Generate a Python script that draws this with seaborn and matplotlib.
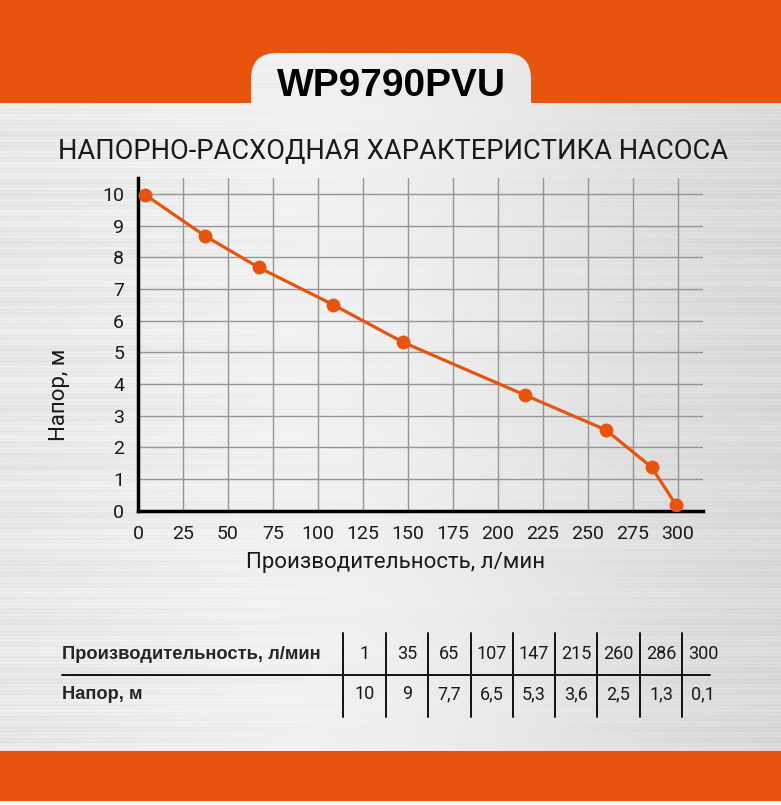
import numpy as np
import matplotlib
matplotlib.use("Agg")
import matplotlib.pyplot as plt
from matplotlib.patches import Rectangle, FancyBboxPatch
import seaborn as sns

sns.set_style("white")
plt.rcParams['font.family'] = ['Roboto', 'DejaVu Sans']

# points as drawn on the curve
flow_pts = [4, 37, 67, 108.5, 147.5, 215, 260, 285.5, 299]
head_pts = [9.97, 8.68, 7.68, 6.5, 5.31, 3.65, 2.55, 1.37, 0.18]

# values printed in the table
table_flow = ["1", "35", "65", "107", "147", "215", "260", "286", "300"]
table_head = ["10", "9", "7,7", "6,5", "5,3", "3,6", "2,5", "1,3", "0,1"]

x_ticks = list(range(0, 301, 25))
y_ticks = list(range(0, 11))

model = "WP9790PVU"
title = "НАПОРНО-РАСХОДНАЯ ХАРАКТЕРИСТИКА НАСОСА"
xlab = "Производительность, л/мин"
ylab = "Напор, м"

orange = "#E8540E"
W, H = 781, 805

fig = plt.figure(figsize=(W / 100, H / 100), dpi=100)

# background: brushed metal look
bg = fig.add_axes([0, 0, 1, 1], zorder=0)
bg.axis("off")
rows = np.arange(H)[:, None]
cols = np.arange(W)[None, :]
base = 0.90 + 0.05 * np.exp(-((cols - 330) / 260.0) ** 2) - 0.05 * (cols / W) ** 2
streak = (0.018 * np.sin(rows * 1.7) + 0.012 * np.sin(rows * 0.53 + 2)
          + 0.01 * np.sin(rows * 0.117 + 1)) * (0.6 + 0.4 * np.cos(cols / 140.0))
metal = np.clip(base + streak, 0, 1)
bg.imshow(metal, cmap="gray", vmin=0, vmax=1, extent=(0, W, H, 0), aspect="auto", zorder=0)

bg.add_patch(Rectangle((0, 0), W, 103, color=orange, lw=0, zorder=1))
bg.add_patch(Rectangle((0, 751), W, 50, color=orange, lw=0, zorder=1))
bg.add_patch(Rectangle((0, 801), W, 4, color="white", lw=0, zorder=1))
tab = FancyBboxPatch((251, 53), 280, 90, boxstyle="round,pad=0,rounding_size=26",
                     facecolor="none", edgecolor="none", zorder=1)
bg.add_patch(tab)
img2 = bg.imshow(metal, cmap="gray", vmin=0, vmax=1, extent=(0, W, H, 0), aspect="auto", zorder=2)
img2.set_clip_path(tab)
bg.set_xlim(0, W)
bg.set_ylim(H, 0)

bg.text(391, 86, model, ha="center", va="center", fontsize=28, fontweight="bold",
        family="Liberation Sans", color="black", zorder=3)
bg.text(393, 152, title, ha="center", va="center", fontsize=19.6, color="#1a1a1a", zorder=3)

# table
col_x = [343, 386, 428, 471, 513, 555, 597, 640, 682]
centers = [(col_x[i] + col_x[i + 1]) / 2 for i in range(len(col_x) - 1)] + [703]
bg.plot([62, 710], [675, 675], color="#111111", lw=1.4, zorder=3)
for cx in col_x:
    bg.plot([cx, cx], [633, 717], color="#111111", lw=1.4, zorder=3)
bg.text(62, 654, xlab, ha="left", va="center", fontsize=13.2, fontweight="bold",
        family="Liberation Sans", zorder=3)
bg.text(62, 694, ylab, ha="left", va="center", fontsize=13.2, fontweight="bold",
        family="Liberation Sans", zorder=3)
for c, f, h in zip(centers, table_flow, table_head):
    bg.text(c, 654, f, ha="center", va="center", fontsize=13, color="#1a1a1a", zorder=3)
    bg.text(c, 694, h, ha="center", va="center", fontsize=13, color="#1a1a1a", zorder=3)

# chart
ax = fig.add_axes([138 / W, 1 - 510.7 / H, (703 - 138) / W, (510.7 - 178) / H], zorder=1)
ax.set_facecolor("none")
ax.set_xlim(0, 314)
ax.set_ylim(0, 10.5)
for xv in x_ticks[1:]:
    ax.axvline(xv, color="#959595", lw=1, zorder=1)
for yv in y_ticks[1:]:
    ax.axhline(yv, color="#959595", lw=1, zorder=1)

sns.lineplot(x=flow_pts, y=head_pts, ax=ax, color=orange, linewidth=2.3,
             marker="o", markersize=10, markeredgewidth=0, zorder=3)

ax.set_xticks(x_ticks)
ax.set_yticks(y_ticks)
ax.tick_params(axis="both", length=0, labelsize=14, colors="#1a1a1a")
ax.tick_params(axis="x", pad=10)
ax.tick_params(axis="y", pad=10)
for s in ["top", "right"]:
    ax.spines[s].set_visible(False)
for s in ["left", "bottom"]:
    ax.spines[s].set_color("black")
    ax.spines[s].set_linewidth(2.5)
ax.set_xlabel(xlab, fontsize=16, color="#1a1a1a")
ax.set_ylabel(ylab, fontsize=16, color="#1a1a1a")
ax.xaxis.set_label_coords(0.455, -0.125)
ax.yaxis.set_label_coords(-0.12, 0.348)

fig.savefig("out.png", dpi=100)
